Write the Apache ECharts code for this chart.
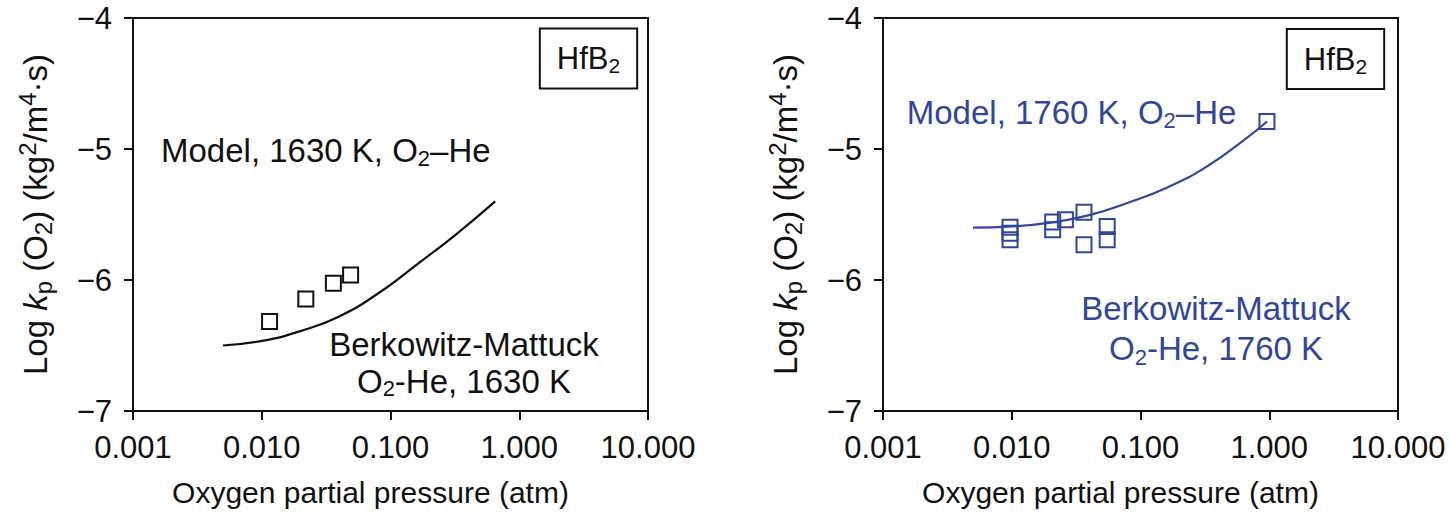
<!DOCTYPE html>
<html>
<head>
<meta charset="utf-8">
<script src="https://cdn.jsdelivr.net/npm/echarts@6/dist/echarts.min.js"></script>
<style>
html,body{margin:0;padding:0;background:#fff;}
#chart{width:1450px;height:521px;}
</style>
</head>
<body>
<div id="chart"></div>
<script>
// ---- data ----
const xTickValues = [0.001, 0.01, 0.1, 1, 10];
const xTickLabels = ['0.001', '0.010', '0.100', '1.000', '10.000'];
const yTickValues = [-7, -6, -5, -4];
const yTickLabels = ['\u22127', '\u22126', '\u22125', '\u22124'];

// Left panel: 1630 K
const leftModelX = [0.005, 0.01, 0.02, 0.04, 0.08, 0.16, 0.32, 0.65];
const leftModelY = [-6.50, -6.465, -6.39, -6.278, -6.103, -5.882, -5.655, -5.40];
const leftExpX = [0.0115, 0.022, 0.036, 0.049];
const leftExpY = [-6.316, -6.145, -6.025, -5.961];

// Right panel: 1760 K
const rightModelX = [0.005, 0.01, 0.02, 0.04, 0.08, 0.16, 0.32, 0.64, 0.96];
const rightModelY = [-5.600, -5.591, -5.562, -5.505, -5.41, -5.295, -5.14, -4.93, -4.79];
const rightExpX = [0.0097, 0.0097, 0.0097, 0.0208, 0.0208, 0.0261, 0.0364, 0.0364, 0.0551, 0.0551, 0.96];
const rightExpY = [-5.597, -5.643, -5.693, -5.557, -5.616, -5.54, -5.483, -5.731, -5.591, -5.693, -4.79];

// ---- styling ----
const FONT = '"Liberation Sans", Arial, Helvetica, sans-serif';
const BLACK = '#111111';
const BLUE = '#2f45a0';

function richSet(color, size, lh, subSize) {
  const sub = subSize || Math.round(size * 0.66);
  return {
    n: {fontSize: size, lineHeight: lh, fontFamily: FONT, color: color},
    i: {fontSize: size, lineHeight: lh, fontFamily: FONT, color: color, fontStyle: 'italic'},
    sub: {fontSize: sub, lineHeight: sub, fontFamily: FONT, color: color, verticalAlign: 'bottom'},
    sup: {fontSize: sub, lineHeight: sub, fontFamily: FONT, color: color, verticalAlign: 'top'}
  };
}

const zip = (xs, ys) => xs.map((x, i) => [x, ys[i]]);
const xLabelFmt = v => {
  const idx = Math.round(Math.log10(v)) + 3;
  return xTickLabels[idx] !== undefined ? xTickLabels[idx] : '';
};
const yLabelFmt = v => {
  const idx = yTickValues.indexOf(Math.round(v));
  return idx >= 0 ? yTickLabels[idx] : '';
};

function xAxisCfg(gi) {
  return {
    type: 'log', logBase: 10, gridIndex: gi,
    min: xTickValues[0], max: xTickValues[xTickValues.length - 1], interval: 1,
    name: 'Oxygen partial pressure (atm)', nameLocation: 'middle', nameGap: 66,
    nameTextStyle: {fontSize: 30, fontFamily: FONT, color: BLACK, padding: [0, 40, 0, 0]},
    axisLine: {show: true, lineStyle: {color: BLACK, width: 2}},
    axisTick: {show: true, inside: false, length: 9, lineStyle: {color: BLACK, width: 2}},
    minorTick: {show: false},
    axisLabel: {formatter: xLabelFmt, fontSize: 31, fontFamily: FONT, color: BLACK, margin: 21, showMinLabel: true, showMaxLabel: true},
    splitLine: {show: false}
  };
}
function yAxisCfg(gi) {
  return {
    type: 'value', gridIndex: gi, min: -7, max: -4, interval: 1,
    name: '{n|Log }{i|k}{sub|p}{n| (O}{sub|2}{n|) (kg}{sup|2}{n|/m}{sup|4}{n|\u00b7s)}',
    nameLocation: 'middle', nameGap: 78, nameRotate: 90,
    nameTextStyle: {rich: richSet(BLACK, 33, 40, 24)},
    axisLine: {show: true, lineStyle: {color: BLACK, width: 2}},
    axisTick: {show: true, inside: false, length: 9, lineStyle: {color: BLACK, width: 2}},
    axisLabel: {formatter: yLabelFmt, fontSize: 31, fontFamily: FONT, color: BLACK, margin: 21},
    splitLine: {show: false}
  };
}

function boxLabel(coord) {
  return {
    value: coord,
    label: {
      show: true, position: 'inside', align: 'center', verticalAlign: 'middle',
      formatter: '{n|HfB}{sub|2}',
      rich: richSet(BLACK, 31, 36, 21),
      borderColor: BLACK, borderWidth: 2, padding: [11, 16, 11, 16], backgroundColor: '#fff'
    }
  };
}
function textLabel(coord, text, color, align, lh) {
  return {
    value: coord,
    label: {
      show: true, position: 'inside', align: align, verticalAlign: 'middle',
      formatter: text, rich: richSet(color, 33, lh || 38, 22)
    }
  };
}
function annotationSeries(gi, items) {
  return {
    type: 'scatter', xAxisIndex: gi, yAxisIndex: gi, silent: true, z: 10,
    symbol: 'circle', symbolSize: 1, itemStyle: {color: 'rgba(0,0,0,0)', opacity: 1},
    data: items
  };
}

const option = {
  animation: false,
  backgroundColor: '#ffffff',
  grid: [
    {left: 133, top: 18, width: 515, height: 393, show: true, borderColor: BLACK, borderWidth: 2, backgroundColor: 'transparent'},
    {left: 883, top: 18, width: 515, height: 393, show: true, borderColor: BLACK, borderWidth: 2, backgroundColor: 'transparent'}
  ],
  xAxis: [xAxisCfg(0), xAxisCfg(1)],
  yAxis: [yAxisCfg(0), yAxisCfg(1)],
  series: [
    {
      type: 'line', xAxisIndex: 0, yAxisIndex: 0, data: zip(leftModelX, leftModelY),
      smooth: 0.5, showSymbol: false, symbol: 'none',
      lineStyle: {color: BLACK, width: 2.2}
    },
    {
      type: 'scatter', xAxisIndex: 0, yAxisIndex: 0, data: zip(leftExpX, leftExpY),
      symbol: 'rect', symbolSize: 15,
      itemStyle: {color: 'rgba(255,255,255,0)', borderColor: BLACK, borderWidth: 2, opacity: 1}
    },
    annotationSeries(0, [
      boxLabel([3.45, -4.309]),
      textLabel([0.00165, -5.008], '{n|Model, 1630 K, O}{sub|2}{n|\u2013He}', BLACK, 'left'),
      textLabel([0.372, -6.63], '{n|Berkowitz-Mattuck}\n{n|O}{sub|2}{n|-He, 1630 K}', BLACK, 'center', 37)
    ]),
    {
      type: 'line', xAxisIndex: 1, yAxisIndex: 1, data: zip(rightModelX, rightModelY),
      smooth: 0.5, showSymbol: false, symbol: 'none',
      lineStyle: {color: BLUE, width: 2.2}
    },
    {
      type: 'scatter', xAxisIndex: 1, yAxisIndex: 1, data: zip(rightExpX, rightExpY),
      symbol: 'rect', symbolSize: 15,
      itemStyle: {color: 'rgba(255,255,255,0)', borderColor: BLUE, borderWidth: 2, opacity: 1}
    },
    annotationSeries(1, [
      boxLabel([3.27, -4.313]),
      textLabel([0.00153, -4.725], '{n|Model, 1760 K, O}{sub|2}{n|\u2013He}', BLUE, 'left'),
      textLabel([0.386, -6.374], '{n|Berkowitz-Mattuck}\n{n|O}{sub|2}{n|-He, 1760 K}', BLUE, 'center', 40)
    ])
  ]
};

const chart = echarts.init(document.getElementById('chart'), null, {renderer: 'svg', width: 1450, height: 521});
chart.setOption(option);
</script>
</body>
</html>
